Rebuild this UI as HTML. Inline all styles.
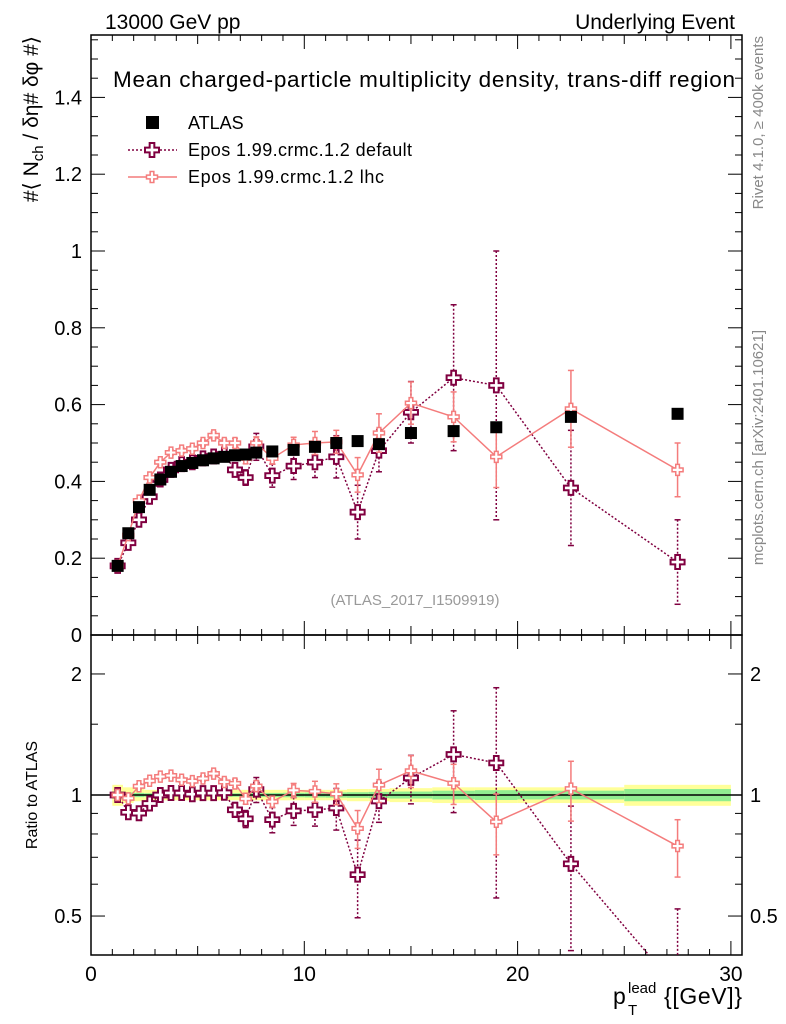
<!DOCTYPE html>
<html><head><meta charset="utf-8"><style>
html,body{margin:0;padding:0;background:#fff;overflow:hidden;}
svg{display:block;font-family:"Liberation Sans",sans-serif;}
</style></head><body>
<svg id="c" width="786" height="1024" viewBox="0 0 786 1024" xmlns="http://www.w3.org/2000/svg">
<text x="105" y="29" font-size="21">13000 GeV pp</text>
<text x="735" y="29" font-size="21" text-anchor="end">Underlying Event</text>
<text x="424" y="87" font-size="22.5" text-anchor="middle" textLength="622">Mean charged-particle multiplicity density, trans-diff region</text>
<text transform="translate(38,36) rotate(-90)" font-size="21" text-anchor="end">#⟨ N<tspan font-size="15" dy="5">ch</tspan><tspan dy="-5"> / δη# δφ #⟩</tspan></text>
<text transform="translate(763,36) rotate(-90)" font-size="15" fill="#888" text-anchor="end">Rivet 4.1.0, ≥ 400k events</text>
<text transform="translate(763,330) rotate(-90)" font-size="15" fill="#888" text-anchor="end">mcplots.cern.ch [arXiv:2401.10621]</text>
<text x="415" y="605" font-size="15" fill="#999" text-anchor="middle">(ATLAS_2017_I1509919)</text>
<text transform="translate(37,795) rotate(-90)" font-size="16" text-anchor="middle">Ratio to ATLAS</text>
<g>
<text x="613" y="1004" font-size="23">p</text>
<text x="628" y="993" font-size="15">lead</text>
<text x="628" y="1015" font-size="15">T</text>
<text x="742" y="1004" font-size="23" text-anchor="end" textLength="78">{[GeV]}</text>
</g>
<g>
<rect x="146" y="116" width="13" height="13" fill="#000"/>
<text x="188" y="129" font-size="18">ATLAS</text>
<line x1="128" y1="150" x2="177" y2="150" stroke="#800040" stroke-width="1.5" stroke-dasharray="2,2"/>
<text x="188" y="156" font-size="18" textLength="224">Epos 1.99.crmc.1.2 default</text>
<line x1="128" y1="177" x2="177" y2="177" stroke="#f47c7c" stroke-width="1.5"/>
<text x="188" y="183" font-size="18" textLength="196">Epos 1.99.crmc.1.2 lhc</text>
</g>
<g id="g"></g>
</svg>
<script>
const xVals=[1.25,1.75,2.25,2.75,3.25,3.75,4.25,4.75,5.25,5.75,6.25,6.75,7.25,7.75,8.5,9.5,10.5,11.5,12.5,13.5,15,17,19,22.5,27.5];
const xLow=[1,1.5,2,2.5,3,3.5,4,4.5,5,5.5,6,6.5,7,7.5,8,9,10,11,12,13,14,16,18,20,25];
const xHigh=[1.5,2,2.5,3,3.5,4,4.5,5,5.5,6,6.5,7,7.5,8,9,10,11,12,13,14,16,18,20,25,30];
const atlas=[0.18,0.265,0.333,0.378,0.405,0.425,0.44,0.448,0.455,0.46,0.464,0.468,0.47,0.475,0.478,0.482,0.49,0.5,0.505,0.497,0.526,0.531,0.541,0.568,0.576];
const bandTotRel=[0.06,0.045,0.035,0.03,0.03,0.03,0.03,0.03,0.03,0.03,0.03,0.03,0.03,0.03,0.03,0.03,0.03,0.03,0.035,0.035,0.04,0.045,0.045,0.045,0.06];
const bandStatRel=[0.02,0.015,0.012,0.01,0.01,0.01,0.01,0.01,0.01,0.01,0.01,0.01,0.01,0.012,0.012,0.013,0.014,0.015,0.016,0.018,0.02,0.025,0.028,0.025,0.035];
const eposDef=[0.18,0.24,0.30,0.36,0.405,0.43,0.445,0.45,0.46,0.465,0.47,0.43,0.41,0.49,0.415,0.44,0.45,0.464,0.32,0.48,0.58,0.67,0.65,0.383,0.19];
const eposDefErr=[0.005,0.005,0.006,0.007,0.008,0.008,0.009,0.01,0.011,0.012,0.014,0.018,0.02,0.035,0.03,0.035,0.04,0.055,0.07,0.055,0.08,0.19,0.35,0.15,0.11];
const eposLhc=[0.18,0.26,0.35,0.41,0.45,0.475,0.48,0.485,0.5,0.52,0.5,0.5,0.46,0.5,0.46,0.495,0.5,0.503,0.417,0.526,0.604,0.568,0.464,0.589,0.43];
const eposLhcErr=[0.004,0.004,0.005,0.005,0.006,0.006,0.007,0.007,0.008,0.009,0.01,0.012,0.014,0.016,0.015,0.02,0.03,0.03,0.045,0.05,0.055,0.065,0.08,0.1,0.07];
const mainTicks=[0,0.2,0.4,0.6,0.8,1,1.2,1.4];
const mainTickLabels=["0","0.2","0.4","0.6","0.8","1","1.2","1.4"];
const xTicks=[0,10,20,30];
const ratioTicks=[0.5,1,2];

const NS="http://www.w3.org/2000/svg";
const G=document.getElementById('g');
const L=91,R=742,MT=35,MB=635,RT=635,RB=955;
const sx=v=>91+v*21.33;
const sy=v=>635-v*384;
const rmin=Math.log(0.4),rmax=Math.log(2.5);
const sr=v=>RB-(Math.log(v)-rmin)/(rmax-rmin)*(RB-RT);
function mk(t,a,p){const e=document.createElementNS(NS,t);for(const k in a)e.setAttribute(k,a[k]);(p||G).appendChild(e);return e;}
function cross(x,y,s,col,sw,p){const a=s/2,b=s/6;const d=`M${x-b},${y-a}H${x+b}V${y-b}H${x+a}V${y+b}H${x+b}V${y+a}H${x-b}V${y+b}H${x-a}V${y-b}H${x-b}Z`;return mk('path',{d:d,fill:'#fff',stroke:col,'stroke-width':sw},p);}
const defs=mk('defs',{});
const cp1=mk('clipPath',{id:'cm'},defs);mk('rect',{x:L,y:MT,width:R-L,height:MB-MT},cp1);
const cp2=mk('clipPath',{id:'cr'},defs);mk('rect',{x:L,y:RT,width:R-L,height:RB-RT},cp2);
const bands=mk('g',{'clip-path':'url(#cr)'});


xVals.forEach((x,i)=>{const t=bandTotRel[i],s=bandStatRel[i];
 mk('rect',{x:sx(xLow[i]),y:sr(1+t),width:sx(xHigh[i])-sx(xLow[i]),height:sr(1-t)-sr(1+t),fill:'#ffff99'},bands);
 mk('rect',{x:sx(xLow[i]),y:sr(1+s),width:sx(xHigh[i])-sx(xLow[i]),height:sr(1-s)-sr(1+s),fill:'#90ee90'},bands);});
mk('line',{x1:L,x2:R,y1:sr(1),y2:sr(1),stroke:'#000','stroke-width':1.5});
mk('rect',{x:L,y:MT,width:R-L,height:MB-MT,fill:'none',stroke:'#000','stroke-width':1.5});
mk('rect',{x:L,y:RT,width:R-L,height:RB-RT,fill:'none',stroke:'#000','stroke-width':1.5});
for(let v=0;v<=30;v++){const len=v%10==0?14:(v%5==0?9:6);const X=sx(v);
 [[MB,MT],[RB,RT]].forEach(([b,t])=>{mk('line',{x1:X,x2:X,y1:b,y2:b-len,stroke:'#000'});mk('line',{x1:X,x2:X,y1:t,y2:t+len,stroke:'#000'});});}
xTicks.forEach(v=>{const t=mk('text',{x:sx(v),y:981,'font-size':21,'text-anchor':'middle'});t.textContent=v;
 
 });
for(let k=0;k<=31;k++){const v=k*0.05;const Y=sy(v);if(Y<MT)break;const len=k%4==0?14:7;
 mk('line',{x1:L,x2:L+len,y1:Y,y2:Y,stroke:'#000'});mk('line',{x1:R,x2:R-len,y1:Y,y2:Y,stroke:'#000'});}
mainTicks.forEach((v,i)=>{const t=mk('text',{x:82,y:sy(v)+7,'font-size':20,'text-anchor':'end'});t.textContent=mainTickLabels[i];
 
 });
[0.4,0.6,0.7,0.8,0.9,1.5,2,1,0.5].forEach(v=>{const Y=sr(v);const len=(v==0.5||v==1||v==2)?14:7;
 mk('line',{x1:L,x2:L+len,y1:Y,y2:Y,stroke:'#000'});mk('line',{x1:R,x2:R-len,y1:Y,y2:Y,stroke:'#000'});});
ratioTicks.forEach(v=>{[[82,'end'],[750,'start']].forEach(([x,a])=>{const t=mk('text',{x:x,y:sr(v)+7,'font-size':20,'text-anchor':a});t.textContent=v;
 
 });});
function series(vals,errs,col,dash,size,sw,name,ratio){
 const g=mk('g',{'clip-path':ratio?'url(#cr)':'url(#cm)'});
 
 
 const f=ratio?(v,i)=>sr(Math.max(v/atlas[i],0.05)):(v)=>sy(v);
 const pts=vals.map((v,i)=>sx(xVals[i])+','+f(v,i)).join(' ');
 const la={points:pts,fill:'none',stroke:col,'stroke-width':1.5};if(dash)la['stroke-dasharray']=dash;mk('polyline',la,g);
 vals.forEach((v,i)=>{const X=sx(xVals[i]),y1=f(v+errs[i],i),y2=f(Math.max(v-errs[i],0.02),i);
  const ea={x1:X,x2:X,y1:y1,y2:y2,stroke:col,'stroke-width':1.5};if(dash)ea['stroke-dasharray']=dash;mk('line',ea,g);
  mk('line',{x1:X-3,x2:X+3,y1:y1,y2:y1,stroke:col,'stroke-width':1.5},g);mk('line',{x1:X-3,x2:X+3,y1:y2,y2:y2,stroke:col,'stroke-width':1.5},g);});
 vals.forEach((v,i)=>{const m=cross(sx(xVals[i]),f(v,i),size,col,sw,g);
  
  });
}
series(eposDef,eposDefErr,'#800040','2,2',14,2,'epos-default-series',false);
series(eposLhc,eposLhcErr,'#f47c7c',null,11,1.5,'epos-lhc-series',false);
const ag=mk('g',{'clip-path':'url(#cm)'});


atlas.forEach((v,i)=>{const r=mk('rect',{x:sx(xVals[i])-6,y:sy(v)-6,width:12,height:12,fill:'#000'},ag);
 
 });
series(eposDef,eposDefErr,'#800040','2,2',14,2,'ratio-epos-default',true);
series(eposLhc,eposLhcErr,'#f47c7c',null,11,1.5,'ratio-epos-lhc',true);
cross(152,150,14,'#800040',2);
cross(152,177,11,'#f47c7c',1.5);
</script>
</body></html>
